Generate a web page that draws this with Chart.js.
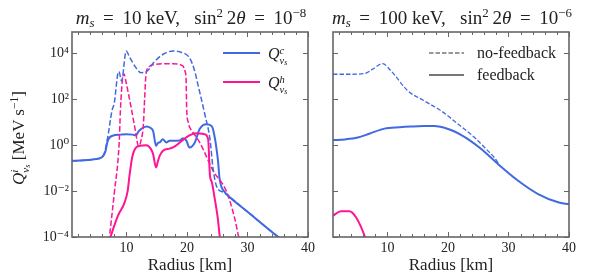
<!DOCTYPE html>
<html>
<head>
<meta charset="utf-8">
<script src="https://cdn.jsdelivr.net/npm/chart.js@4.4.1/dist/chart.umd.min.js"></script>
<style>
  body { margin: 0; background: #fff; }
  #wrap { position: relative; width: 600px; height: 280px; overflow: hidden;
          font-family: "Liberation Serif", "DejaVu Serif", serif; color: #222; }
  canvas { position: absolute; left: 0; top: 0; }
  .title { position: absolute; top: 8px; font-size: 19px; line-height: 1; white-space: nowrap; transform: translateX(-50%); }
  sup, sub { font-size: 0.68em; line-height: 0; }
  sup { vertical-align: 0.55em; }
  sub { vertical-align: -0.25em; }
  .ss { display: inline-block; font-size: 0.66em; line-height: 0.95; vertical-align: -0.45em; text-align: left; }
  .ss span { display: block; }
  .ss sub { font-size: 0.75em; vertical-align: -0.15em; }
  .ylab { position: absolute; left: 20px; top: 138px; font-size: 17px; white-space: nowrap;
          transform: translate(-50%, -50%) rotate(-90deg); }
  .leg { position: absolute; font-size: 16px; white-space: nowrap; transform: translateY(-50%); }
  svg.legline { position: absolute; overflow: visible; }
</style>
</head>
<body>
<div id="wrap">
  <canvas id="left" width="600" height="280"></canvas>
  <canvas id="right" width="600" height="280"></canvas>

  <div class="title" style="left:191px"><i>m</i><sub><i>s</i></sub>&thinsp; = &thinsp;10 keV, &ensp;sin<sup>2</sup>&thinsp;2<i>θ</i>&thinsp; = &thinsp;10<sup>−8</sup></div>
  <div class="title" style="left:452px"><i>m</i><sub><i>s</i></sub>&thinsp; = &thinsp;100 keV, &ensp;sin<sup>2</sup>&thinsp;2<i>θ</i>&thinsp; = &thinsp;10<sup>−6</sup></div>

  <div class="ylab"><i>Q</i><span class="ss"><span><i>i</i></span><span><i>ν</i><sub><i>s</i></sub></span></span> [MeV s<sup>−1</sup>]</div>

  <svg class="legline" style="left:0;top:0" width="600" height="280">
    <line x1="223" y1="53" x2="260" y2="53" stroke="#4169E1" stroke-width="2"/>
    <line x1="223" y1="82" x2="260" y2="82" stroke="#FF1493" stroke-width="2"/>
    <line x1="429" y1="53" x2="464" y2="53" stroke="#777" stroke-width="1.3" stroke-dasharray="4.5 2"/>
    <line x1="429" y1="75" x2="464" y2="75" stroke="#777" stroke-width="2"/>
  </svg>
  <div class="leg" style="left:268px;top:55px"><i>Q</i><span class="ss"><span><i>c</i></span><span><i>ν</i><sub><i>s</i></sub></span></span></div>
  <div class="leg" style="left:268px;top:84px"><i>Q</i><span class="ss"><span><i>h</i></span><span><i>ν</i><sub><i>s</i></sub></span></span></div>
  <div class="leg" style="left:477px;top:53px">no-feedback</div>
  <div class="leg" style="left:477px;top:75px">feedback</div>
</div>

<script>
  // ── data (radius in km, Q in MeV/s) ──
  const xTickValues = [2, 4, 6, 8, 10, 12, 14, 16, 18, 20, 22, 24, 26, 28, 30, 32, 34, 36, 38, 40];
  const xTickLabels = ["10", "20", "30", "40"];
  const yTickValues = [1e-4, 1e-2, 1, 1e2, 1e4];
  const yTickLabels = ["10⁻⁴", "10⁻²", "10⁰", "10²", "10⁴"];

  // left panel: m_s = 10 keV
  const leftCNoFbR = [1, 3, 5, 6, 6.4, 7.0, 7.6, 8.0, 8.56, 8.75, 9.2, 9.95, 10.5, 11.5, 12.4, 13.3, 14.5, 16, 17.7, 19, 20.4, 21.2, 21.8, 22.9, 23.8, 24.3, 24.9, 26, 26.8, 30, 34.8, 35.6];
  const leftCNoFbQ = [0.209, 0.219, 0.251, 0.302, 0.501, 3.16, 31.6, 72.4, 1259, 1585, 631, 12589, 7079, 2512, 1445, 1585, 3981, 8913, 12589, 11220, 6457, 1995, 447, 25.1, 1.82, 0.1, 0.0158, 0.0089, 0.0063, 0.00126, 1.15e-4, 7.9e-5];

  const leftCFbR = [1, 3, 5, 6, 6.5, 6.9, 7.7, 9, 9.95, 11, 11.6, 12.0, 12.4, 13.3, 14.0, 14.4, 14.9, 15.2, 15.5, 16.0, 16.6, 17.1, 17.7, 18.8, 19.3, 19.9, 20.4, 21.3, 22.1, 23.2, 24.0, 24.3, 25.1, 25.4, 26.3, 26.8, 30, 34.8, 35.6];
  const leftCFbQ = [0.209, 0.219, 0.251, 0.302, 0.501, 1.55, 2.57, 2.88, 3.02, 2.88, 2.69, 3.98, 5.01, 6.46, 5.62, 4.17, 0.933, 1.26, 1.32, 1.82, 1.32, 1.55, 1.55, 1.58, 2.0, 1.58, 0.794, 1.32, 5.01, 8.13, 7.08, 5.01, 0.245, 0.0331, 0.0087, 0.0063, 0.00126, 1.15e-4, 7.9e-5];

  const leftHNoFbR = [7.1, 8.0, 8.8, 9.0, 9.4, 9.6, 9.95, 10.8, 11.5, 12.0, 12.4, 12.8, 13.0, 13.2, 13.6, 14.9, 17.7, 19.3, 19.7, 19.85, 19.95, 20.2, 20.6, 21.0, 22.1, 24.3, 26.5, 27.9, 28.5, 28.8];
  const leftHNoFbQ = [6.3e-5, 0.0087, 1.32, 31.6, 1000, 1259, 525, 39.8, 3.98, 0.89, 1.58, 7.94, 100, 1000, 2399, 3311, 3548, 2818, 1585, 794, 39.8, 10, 5.01, 3.55, 1.32, 0.0794, 0.01, 6.3e-4, 1.15e-4, 6.3e-5];

  const leftHFbR = [7.1, 8.6, 9.7, 10.2, 10.5, 11.0, 12.2, 13.3, 14.0, 14.4, 14.9, 15.2, 15.5, 16.0, 17.1, 17.7, 19.3, 20.4, 21.6, 22.9, 23.5, 23.8, 24.1, 24.6, 25.1, 25.4, 25.6];
  const leftHFbQ = [6.3e-5, 8.5e-4, 3.24e-3, 0.0102, 0.0468, 0.347, 0.933, 1.0, 0.708, 0.407, 0.107, 0.2, 0.347, 0.562, 0.708, 0.794, 1.66, 2.69, 3.31, 3.02, 1.82, 0.0468, 0.0251, 4.47e-3, 6.3e-4, 1.15e-4, 5e-5];

  // right panel: m_s = 100 keV
  const rightCNoFbR = [1, 4, 6.2, 7.5, 9.2, 10.6, 13.4, 16.1, 18.9, 21.7, 24.4, 26.6, 27.7, 28.5];
  const rightCNoFbQ = [1230, 1230, 1318, 1995, 3548, 1698, 229, 85.1, 30.9, 8.13, 2.14, 0.562, 0.282, 0.141];

  const rightCFbR = [1, 3, 5.1, 7, 9.5, 12, 13.9, 16, 17.8, 19.5, 20.6, 22, 23.3, 25.5, 28.3, 31.6, 34.9, 38.2, 40];
  const rightCFbQ = [1.66, 1.78, 2.14, 3.16, 5.25, 6.03, 6.46, 6.76, 6.76, 5.62, 4.47, 2.95, 1.82, 0.676, 0.148, 0.0282, 7.41e-3, 3.24e-3, 2.69e-3];

  const rightHFbR = [1, 2.3, 3.7, 4.8, 6.2, 6.5];
  const rightHFbQ = [8.5e-4, 1.32e-3, 1.32e-3, 7.2e-4, 1.15e-4, 6.3e-5];

  const BLUE = "#4169E1";
  const PINK = "#FF1493";
  const SPINE = "#666";
  const FONT = '"Liberation Serif", "DejaVu Serif", serif';

  function pts(r, q) {
    return r.map(function (v, i) { return { x: v, y: q[i] }; });
  }

  function line(r, q, color, dashed) {
    return {
      data: pts(r, q),
      borderColor: color,
      borderWidth: dashed ? 1.5 : 2,
      borderDash: dashed ? [5.5, 2.4] : [],
      pointRadius: 0,
      fill: false,
      cubicInterpolationMode: "monotone",
    };
  }

  // frame + inward ticks on all four sides
  const framePlugin = {
    id: "frame",
    afterDatasetsDraw: function (chart) {
      const ctx = chart.ctx;
      const a = chart.chartArea;
      const x = chart.scales.x, y = chart.scales.y;
      ctx.save();
      ctx.strokeStyle = SPINE;
      ctx.lineWidth = 1;
      ctx.beginPath();
      xTickValues.forEach(function (v) {
        const px = Math.round(x.getPixelForValue(v)) + 0.5;
        const len = v % 10 === 0 ? 5 : 3;
        ctx.moveTo(px, a.bottom); ctx.lineTo(px, a.bottom - len);
        ctx.moveTo(px, a.top); ctx.lineTo(px, a.top + len);
      });
      yTickValues.forEach(function (v) {
        const py = Math.round(y.getPixelForValue(v)) + 0.5;
        ctx.moveTo(a.left, py); ctx.lineTo(a.left + 5, py);
        ctx.moveTo(a.right, py); ctx.lineTo(a.right - 5, py);
      });
      ctx.stroke();
      ctx.lineWidth = 1.6;
      ctx.strokeRect(a.left, a.top, a.right - a.left, a.bottom - a.top);
      ctx.restore();
    },
  };

  function makeChart(id, datasets, padLeft, padRight, yWidth, showY) {
    return new Chart(document.getElementById(id), {
      type: "line",
      data: { datasets: datasets },
      plugins: [framePlugin],
      options: {
        responsive: false,
        animation: false,
        devicePixelRatio: 1,
        layout: { padding: { left: padLeft, right: padRight, top: 32, bottom: 0 } },
        plugins: { legend: { display: false }, tooltip: { enabled: false } },
        scales: {
          x: {
            type: "linear",
            min: 1,
            max: 40,
            grid: { display: false, drawTicks: false },
            border: { display: false },
            afterBuildTicks: function (s) {
              s.ticks = xTickValues.map(function (v) { return { value: v }; });
            },
            afterFit: function (s) { s.height = 43; },
            ticks: {
              autoSkip: false,
              maxRotation: 0,
              padding: 3,
              color: "#222",
              font: { family: FONT, size: 14 },
              callback: function (v) {
                return v % 10 === 0 ? xTickLabels[v / 10 - 1] : "";
              },
            },
            title: {
              display: true,
              text: "Radius [km]",
              color: "#222",
              font: { family: FONT, size: 17 },
              padding: { top: 0, bottom: 4 },
            },
          },
          y: {
            type: "logarithmic",
            min: 1e-4,
            max: 8.5e4,
            grid: { display: false, drawTicks: false },
            border: { display: false },
            afterBuildTicks: function (s) {
              s.ticks = yTickValues.map(function (v) { return { value: v }; });
            },
            afterFit: function (s) { s.width = yWidth; },
            ticks: {
              display: showY,
              autoSkip: false,
              padding: 3,
              color: "#222",
              font: { family: FONT, size: 14 },
              callback: function (v) {
                const i = yTickValues.indexOf(v);
                return i >= 0 ? yTickLabels[i] : "";
              },
            },
          },
        },
      },
    });
  }

  makeChart("left", [
    line(leftCNoFbR, leftCNoFbQ, BLUE, true),
    line(leftHNoFbR, leftHNoFbQ, PINK, true),
    line(leftHFbR, leftHFbQ, PINK, false),
    line(leftCFbR, leftCFbQ, BLUE, false),
  ], 0, 292, 72, true);

  makeChart("right", [
    Object.assign(line(rightCNoFbR, rightCNoFbQ, BLUE, true), { borderWidth: 1.3, borderDash: [4.5, 2] }),
    line(rightHFbR, rightHFbQ, PINK, false),
    line(rightCFbR, rightCFbQ, BLUE, false),
  ], 333, 31, 0, false);
</script>
</body>
</html>
